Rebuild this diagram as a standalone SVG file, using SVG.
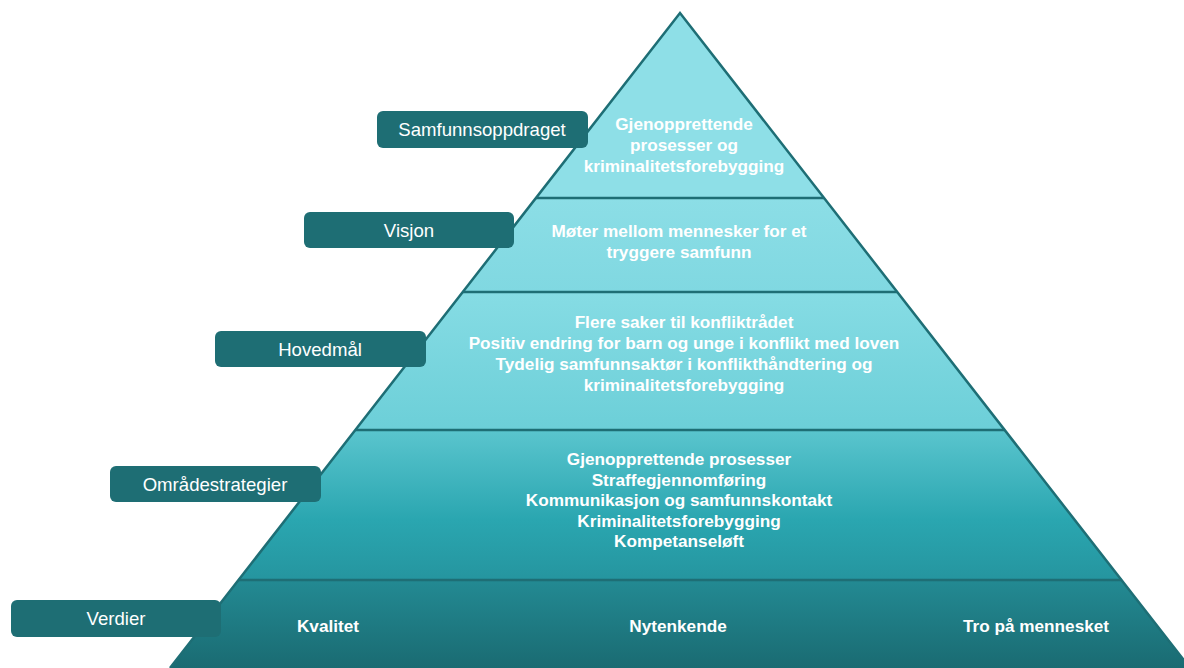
<svg xmlns="http://www.w3.org/2000/svg" width="1184" height="668" viewBox="0 0 1184 668">
<defs>
<linearGradient id="g2" x1="0" y1="198" x2="0" y2="292" gradientUnits="userSpaceOnUse"><stop offset="0" stop-color="#8CDEE6"/><stop offset="1" stop-color="#80D8E1"/></linearGradient>
<linearGradient id="g3" x1="0" y1="292" x2="0" y2="430" gradientUnits="userSpaceOnUse"><stop offset="0" stop-color="#86DCE4"/><stop offset="1" stop-color="#6CCFD8"/></linearGradient>
<linearGradient id="g4" x1="0" y1="430" x2="0" y2="580" gradientUnits="userSpaceOnUse"><stop offset="0" stop-color="#5AC5CE"/><stop offset="0.6" stop-color="#2AA6B0"/><stop offset="1" stop-color="#25959F"/></linearGradient>
<linearGradient id="g5" x1="0" y1="580" x2="0" y2="668" gradientUnits="userSpaceOnUse"><stop offset="0" stop-color="#238A93"/><stop offset="1" stop-color="#1A6B72"/></linearGradient>
</defs>
<style>
.lbl{fill:#1E6E74}
.lt{font-family:"Liberation Sans",Arial,sans-serif;font-size:18.6px;fill:#FFFFFF;text-anchor:middle}
.ct{font-family:"Liberation Sans",Arial,sans-serif;font-size:17.2px;font-weight:bold;fill:#FFFFFF;text-anchor:middle}
.div{stroke:#1E6E75;stroke-width:2.5;fill:none}
</style>
<g id="pyramid">
<polygon points="680,13 536,198 824,198" fill="#8EDFE7"/>
<polygon points="536,198 824,198 897.2,292 462.8,292" fill="url(#g2)"/>
<polygon points="462.8,292 897.2,292 1004.7,430 355.3,430" fill="url(#g3)"/>
<polygon points="355.3,430 1004.7,430 1121.5,580 238.5,580" fill="url(#g4)"/>
<polygon points="238.5,580 1121.5,580 1190,668 170,668" fill="url(#g5)"/>
</g>
<g id="connectors">
<polyline class="div" points="170,668 680,13 1190,668"/>
<line class="div" x1="536" y1="198" x2="824" y2="198"/>
<line class="div" x1="462.8" y1="292" x2="897.2" y2="292"/>
<line class="div" x1="355.3" y1="430" x2="1004.7" y2="430"/>
<line class="div" x1="238.5" y1="580" x2="1121.5" y2="580"/>
</g>
<g id="level1">
<text class="ct" x="684" y="130">Gjenopprettende</text>
<text class="ct" x="684" y="151">prosesser og</text>
<text class="ct" x="684" y="172">kriminalitetsforebygging</text>
</g>
<g id="level2">
<text class="ct" x="679" y="237">Møter mellom mennesker for et</text>
<text class="ct" x="679" y="258">tryggere samfunn</text>
</g>
<g id="level3">
<text class="ct" x="684" y="328">Flere saker til konfliktrådet</text>
<text class="ct" x="684" y="349">Positiv endring for barn og unge i konflikt med loven</text>
<text class="ct" x="684" y="370">Tydelig samfunnsaktør i konflikthåndtering og</text>
<text class="ct" x="684" y="391">kriminalitetsforebygging</text>
</g>
<g id="level4">
<text class="ct" x="679" y="465">Gjenopprettende prosesser</text>
<text class="ct" x="679" y="486">Straffegjennomføring</text>
<text class="ct" x="679" y="506">Kommunikasjon og samfunnskontakt</text>
<text class="ct" x="679" y="527">Kriminalitetsforebygging</text>
<text class="ct" x="679" y="547">Kompetanseløft</text>
</g>
<g id="level5">
<text class="ct" x="328" y="632">Kvalitet</text>
<text class="ct" x="678" y="632">Nytenkende</text>
<text class="ct" x="1036" y="632">Tro på mennesket</text>
</g>
<g id="label-samfunnsoppdraget">
<rect class="lbl" x="377" y="111" width="211" height="37" rx="6"/>
<text class="lt" x="482" y="136">Samfunnsoppdraget</text>
</g>
<g id="label-visjon">
<rect class="lbl" x="304" y="212" width="210" height="36" rx="6"/>
<text class="lt" x="409" y="237">Visjon</text>
</g>
<g id="label-hovedmal">
<rect class="lbl" x="215" y="331" width="211" height="36" rx="6"/>
<text class="lt" x="320" y="356">Hovedmål</text>
</g>
<g id="label-omradestrategier">
<rect class="lbl" x="110" y="466" width="211" height="36" rx="6"/>
<text class="lt" x="215" y="491">Områdestrategier</text>
</g>
<g id="label-verdier">
<rect class="lbl" x="11" y="600" width="210" height="37" rx="6"/>
<text class="lt" x="116" y="625">Verdier</text>
</g>
</svg>
